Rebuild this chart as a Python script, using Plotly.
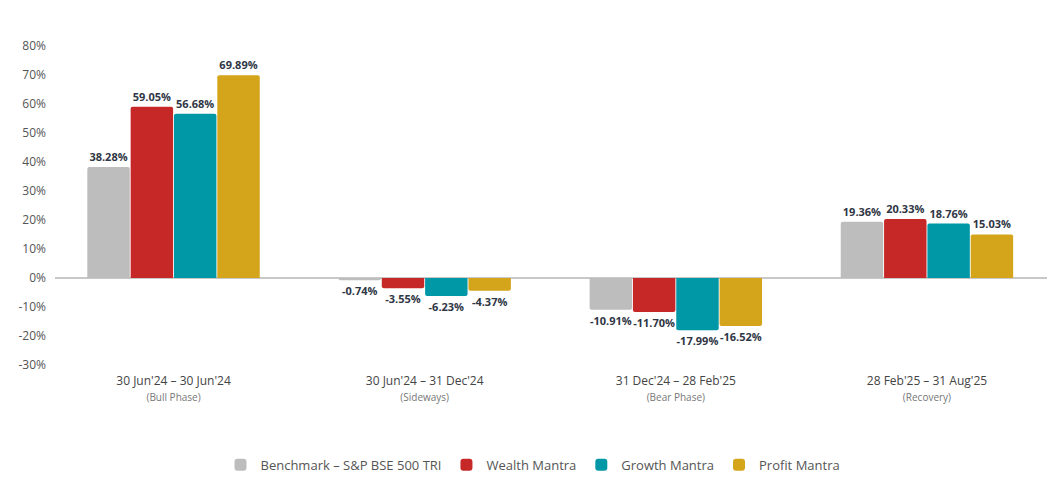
import plotly.graph_objects as go

periods = ["30 Jun'24 – 30 Jun'24", "30 Jun'24 – 31 Dec'24", "31 Dec'24 – 28 Feb'25", "28 Feb'25 – 31 Aug'25"]
phases = ["(Bull Phase)", "(Sideways)", "(Bear Phase)", "(Recovery)"]
series_names = ["Benchmark – S&P BSE 500 TRI", "Wealth Mantra", "Growth Mantra", "Profit Mantra"]
benchmark = [38.28, -0.74, -10.91, 19.36]
wealth = [59.05, -3.55, -11.70, 20.33]
growth = [56.68, -6.23, -17.99, 18.76]
profit = [69.89, -4.37, -16.52, 15.03]
colors = ["#BDBDBD", "#C62828", "#0097A7", "#D4A51A"]
y_ticks = [-30, -20, -10, 0, 10, 20, 30, 40, 50, 60, 70, 80]

cats = [f"{p}<br><span style='font-size:10px;color:#777'>{ph}</span>" for p, ph in zip(periods, phases)]

fig = go.Figure()
for name, vals, c in zip(series_names, [benchmark, wealth, growth, profit], colors):
    fig.add_trace(go.Bar(
        x=cats, y=vals, name=name,
        marker=dict(color=c, cornerradius=2, line=dict(width=0)),
        text=[f"{v:.2f}%" for v in vals],
        textposition="outside",
        textfont=dict(size=11, color="#2f3645", family="Open Sans", weight="bold"),
        cliponaxis=False,
    ))

fig.update_layout(
    width=1050, height=471,
    barmode="group", bargap=0.31, bargroupgap=0.02,
    plot_bgcolor="white", paper_bgcolor="white",
    font=dict(family="Open Sans", size=12, color="#555"),
    margin=dict(l=47, r=11, t=38, b=114, autoexpand=False),
    showlegend=True,
    legend=dict(orientation="h", x=0.5, xanchor="center", xref="container",
                y=0.03, yanchor="middle", yref="container",
                font=dict(size=13, color="#555"), itemsizing="constant", traceorder="normal"),
)
fig.update_xaxes(range=[-0.472, 3.478], showgrid=False, showline=False, ticks="",
                 automargin=False, tickfont=dict(size=12, color="#444"), ticklabelstandoff=7)
fig.update_yaxes(range=[-30, 80], tickvals=y_ticks, ticktext=[f"{t}%" for t in y_ticks],
                 showgrid=False, zeroline=True, zerolinecolor="#c8c8c8", zerolinewidth=1.5,
                 showline=False, automargin=False, tickfont=dict(size=12, color="#555"),
                 ticklabelstandoff=8)
fig.write_html("out.html")
